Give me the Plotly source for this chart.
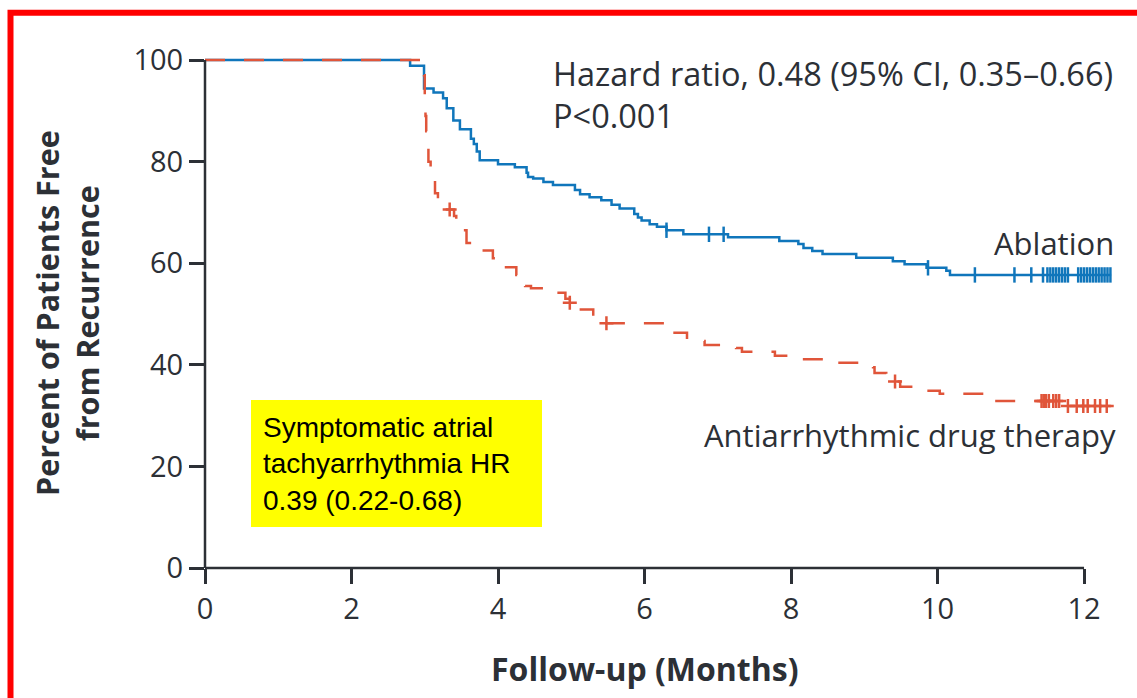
import numpy as np
import plotly.graph_objects as go

# ---------------- data ----------------
abl_t = [0, 2.80, 2.99, 3.12, 3.25, 3.30, 3.39, 3.48, 3.63, 3.67, 3.71, 3.75, 4.00, 4.23,
         4.39, 4.41, 4.48, 4.62, 4.75, 5.05, 5.12, 5.25, 5.41, 5.55, 5.66, 5.86, 5.91, 5.96,
         6.07, 6.17, 6.30, 6.53, 7.14, 7.84, 8.10, 8.17, 8.29, 8.43, 8.89, 9.39, 9.55, 9.85,
         10.12, 10.17, 12.37]
abl_s = [100, 98.9, 94.4, 93.6, 92.5, 90.5, 88.1, 86.4, 84.5, 83.5, 82.0, 80.3, 79.5, 78.9,
         77.8, 77.0, 76.7, 76.0, 75.4, 74.4, 73.6, 73.0, 72.4, 71.5, 70.8, 69.7, 69.0, 68.4,
         67.7, 67.2, 66.5, 65.7, 65.1, 64.4, 63.8, 63.0, 62.4, 61.8, 61.1, 60.4, 59.8, 59.1,
         58.5, 57.7, 57.7]
abl_cens = [6.30, 6.88, 7.08, 9.87, 10.51, 11.05, 11.28, 11.44, 11.50, 11.54, 11.58, 11.62,
            11.66, 11.70, 11.74, 11.78, 11.92, 11.96, 12.00, 12.04, 12.08, 12.12, 12.16,
            12.20, 12.24, 12.28, 12.32, 12.36]

drug_t = [0, 2.99, 3.00, 3.01, 3.02, 3.03, 3.05, 3.08, 3.10, 3.14, 3.18, 3.22, 3.27, 3.40,
          3.43, 3.47, 3.57, 3.64, 3.72, 3.93, 3.99, 4.07, 4.25, 4.31, 4.37, 4.45, 4.80, 4.92,
          4.98, 5.03, 5.10, 5.30, 5.38, 5.45, 6.33, 6.41, 6.58, 6.82, 7.25, 7.33, 7.78, 8.12,
          8.50, 9.12, 9.14, 9.30, 9.49, 9.70, 10.03, 10.75, 11.69, 12.37]
drug_s = [100, 97.0, 93.0, 89.0, 86.0, 83.9, 80.0, 78.0, 77.0, 73.8, 72.6, 71.3, 70.6, 69.3,
          67.8, 66.5, 64.0, 63.0, 62.5, 61.0, 60.2, 59.2, 57.7, 56.5, 55.5, 55.1, 54.2, 53.0,
          52.2, 51.5, 50.9, 49.3, 48.7, 48.2, 47.5, 46.3, 44.7, 43.9, 43.3, 42.6, 41.8, 41.1,
          40.4, 39.5, 38.4, 36.7, 35.7, 34.9, 34.3, 32.9, 31.9, 31.9]
drug_cens = [3.34, 4.98, 5.48, 9.42, 11.42, 11.45, 11.48, 11.52, 11.58, 11.62, 11.66, 11.78,
             11.90, 11.99, 12.05, 12.15, 12.22, 12.31]

x_ticks = [0, 2, 4, 6, 8, 10, 12]
y_ticks = [0, 20, 40, 60, 80, 100]

# ---------------- styling ----------------
BLUE = "#1076BB"
RED = "#E0553A"
INK = "#2C3036"
FONT = "Open Sans"

W, H = 1137, 698
L, R, T, B = 205, 1117, 55, 568
XR = [0, 12.45]
YR = [0, 101]


def px(x):
    return (x - L) / (R - L)


def py(y):
    return (B - y) / (B - T)


def step_at(ts, ss, t):
    idx = np.searchsorted(np.array(ts), t, side="right") - 1
    return [ss[i] for i in idx]


fig = go.Figure()

fig.add_trace(go.Scatter(x=abl_t, y=abl_s, mode="lines", line=dict(color=BLUE, width=2.5, shape="hv"),
                         hoverinfo="skip", showlegend=False))
fig.add_trace(go.Scatter(x=drug_t, y=drug_s, mode="lines",
                         line=dict(color=RED, width=2.5, shape="hv", dash="20px,19px"),
                         hoverinfo="skip", showlegend=False))
fig.add_trace(go.Scatter(x=abl_cens, y=step_at(abl_t, abl_s, abl_cens), mode="markers",
                         marker=dict(symbol="line-ns", size=11, line=dict(color=BLUE, width=2.5)),
                         hoverinfo="skip", showlegend=False))
fig.add_trace(go.Scatter(x=drug_cens, y=step_at(drug_t, drug_s, drug_cens), mode="markers",
                         marker=dict(symbol="cross-thin", size=10, line=dict(color=RED, width=2.5)),
                         hoverinfo="skip", showlegend=False))

# axis lines (x axis only runs to 12)
fig.add_shape(type="line", xref="paper", yref="paper", x0=0, x1=12 / XR[1], y0=0, y1=0,
              line=dict(color=INK, width=2.5), layer="above")
fig.add_shape(type="line", xref="paper", yref="paper", x0=0, x1=0, y0=0, y1=100 / YR[1],
              line=dict(color=INK, width=2.5), layer="above")

# yellow box
fig.add_shape(type="rect", xref="paper", yref="paper", x0=px(251), x1=px(542), y0=py(527), y1=py(400),
              fillcolor="#FFFF00", line=dict(width=0), layer="below")

# red frame
fig.add_shape(type="rect", xref="paper", yref="paper", x0=px(10.5), x1=px(1160), y0=py(730), y1=py(12.8),
              line=dict(color="#FF0000", width=6), fillcolor="rgba(0,0,0,0)")

ann = [
    dict(text="Hazard ratio, 0.48 (95% CI, 0.35\u20130.66)<br>P<0.001", x=px(551), y=py(94),
         xanchor="left", yanchor="middle", align="left",
         font=dict(family=FONT, size=32.5, color=INK)),
    dict(text="Ablation", x=px(1116), y=py(243), xanchor="right", yanchor="middle",
         font=dict(family=FONT, size=31, color=INK)),
    dict(text="Antiarrhythmic drug therapy", x=px(1118), y=py(435), xanchor="right", yanchor="middle",
         font=dict(family=FONT, size=31, color=INK)),
    dict(text="Symptomatic atrial<br>tachyarrhythmia HR<br>0.39 (0.22-0.68)", x=px(261), y=py(464),
         xanchor="left", yanchor="middle", align="left",
         font=dict(family="Liberation Sans, Arial", size=28, color="#000000")),
    dict(text="<b>Percent of Patients Free<br>from Recurrence</b>", x=px(67), y=py(313), textangle=-90,
         xanchor="center", yanchor="middle", align="center",
         font=dict(family=FONT, size=30.5, color=INK)),
    dict(text="<b>Follow-up (Months)</b>", x=px(645), y=py(668), xanchor="center", yanchor="middle",
         font=dict(family=FONT, size=32, color=INK)),
]
for a in ann:
    a.update(xref="paper", yref="paper", showarrow=False)
    fig.add_annotation(**a)

fig.update_layout(
    width=W, height=H,
    margin=dict(l=L, r=W - R, t=T, b=H - B, pad=0),
    paper_bgcolor="white", plot_bgcolor="white",
    xaxis=dict(range=XR, tickvals=x_ticks, ticktext=[str(v) for v in x_ticks], ticks="outside",
               ticklen=15, tickwidth=2.5, tickcolor=INK, showline=False, showgrid=False, zeroline=False,
               tickfont=dict(family=FONT, size=29, color=INK), fixedrange=True),
    yaxis=dict(range=YR, tickvals=y_ticks, ticktext=[str(v) for v in y_ticks], ticks="outside",
               ticklen=15, tickwidth=2.5, tickcolor=INK, showline=False, showgrid=False, zeroline=False,
               tickfont=dict(family=FONT, size=29, color=INK), fixedrange=True),
)

fig.write_html("out.html", config={"displayModeBar": False})
